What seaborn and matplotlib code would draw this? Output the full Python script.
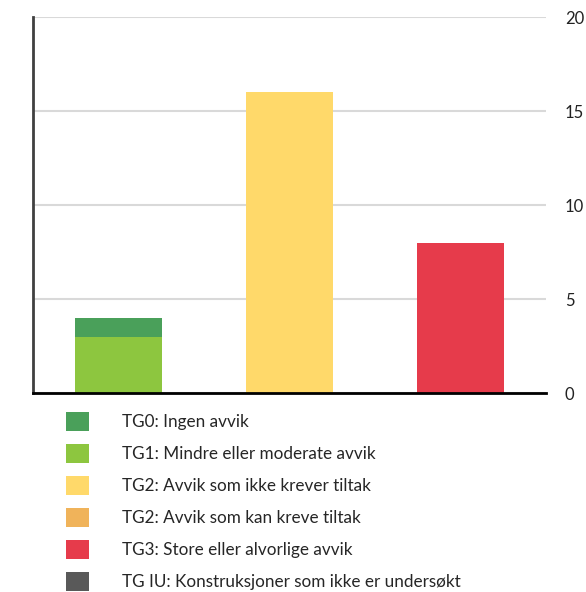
import pandas as pd
import numpy as np
import matplotlib.pyplot as plt
import seaborn as sns
from matplotlib.patches import Patch

sns.set_style('white')
plt.rcParams['font.family'] = ['Lato', 'DejaVu Sans']

# data
categories = ['A', 'B', 'C']
series_labels = [
    'TG0: Ingen avvik',
    'TG1: Mindre eller moderate avvik',
    'TG2: Avvik som ikke krever tiltak',
    'TG2: Avvik som kan kreve tiltak',
    'TG3: Store eller alvorlige avvik',
    'TG IU: Konstruksjoner som ikke er undersøkt',
]
tg0 = [1, 0, 0]
tg1 = [3, 0, 0]
tg2_ikke = [0, 16, 0]
tg2_kan = [0, 0, 0]
tg3 = [0, 0, 8]
tg_iu = [0, 0, 0]
colors = ['#4aa05a', '#8dc63f', '#ffd96a', '#f0b35a', '#e63b4b', '#595959']

values = [tg0, tg1, tg2_ikke, tg2_kan, tg3, tg_iu]

fig = plt.figure(figsize=(5.86, 5.92), dpi=100)
ax = fig.add_axes([33 / 586, 199 / 592, 513 / 586, 376 / 592])

# stacked from bottom: TG IU, TG3, TG2 kan, TG2 ikke, TG1, TG0
df = pd.DataFrame(dict(zip(series_labels, values)), index=categories)
stack_order = series_labels[::-1]
cum = df[stack_order].cumsum(axis=1)
for lab in stack_order[::-1]:
    col = colors[series_labels.index(lab)]
    sns.barplot(x=categories, y=cum[lab].values, color=col, width=0.51,
                saturation=1, linewidth=0, edgecolor='none', ax=ax, zorder=3)

ax.set_xlim(-0.5, 2.5)
ax.set_ylim(0, 20)
ax.set_yticks([0, 5, 10, 15, 20])
ax.yaxis.tick_right()
ax.tick_params(axis='y', length=0, pad=13.5, labelsize=12, labelcolor='#222222')
ax.set_xticks([])
ax.grid(axis='y', color='#d9d9d9', linewidth=1.5, zorder=0)
ax.set_axisbelow(True)
for s in ['top', 'right']:
    ax.spines[s].set_visible(False)
ax.spines['left'].set_color('#404040')
ax.spines['left'].set_linewidth(2)
ax.spines['bottom'].set_color('black')
ax.spines['bottom'].set_linewidth(2)
ax.spines['bottom'].set_zorder(5)

handles = [Patch(facecolor=c, edgecolor='none') for c in colors]
fig.legend(handles, series_labels, loc='upper left',
           bbox_to_anchor=(66 / 586, 1 - 412 / 592), frameon=False,
           fontsize=12.3, handlelength=1.32, handleheight=1.32,
           labelspacing=0.77, handletextpad=1.95, borderaxespad=0,
           borderpad=0)

plt.savefig('out.png', dpi=100)
